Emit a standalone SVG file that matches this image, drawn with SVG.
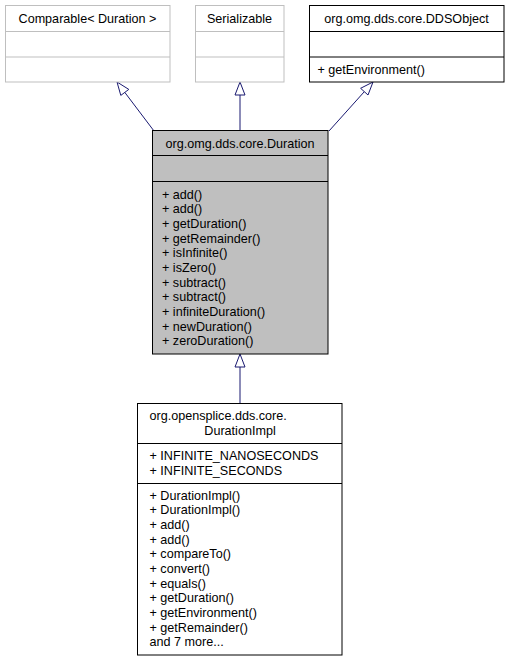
<svg xmlns="http://www.w3.org/2000/svg" width="509" height="661" viewBox="0 0 509 661">
<style>
text{font-family:"Liberation Sans",Arial,sans-serif;font-size:12.6px;fill:#000}
.c{text-anchor:middle}
.lg{fill:#fff;stroke:#bfbfbf;stroke-width:1}
.bk{fill:#fff;stroke:#000;stroke-width:1}
.gr{fill:#bfbfbf;stroke:#000;stroke-width:1}
.e{stroke:#191970;stroke-width:1;fill:none}
.ah{fill:#fff;stroke:#191970;stroke-width:1}
</style>
<rect width="509" height="661" fill="#fff"/>
<g id="connectors">
<path class="e" d="M154,131 L124.8,92.4"/>
<polygon class="ah" points="117,82 120.8,95.4 128.8,89.4"/>
<path class="e" d="M240,131 L240,95"/>
<polygon class="ah" points="240,82 235,95 245,95"/>
<path class="e" d="M329,131 L364.3,91.7"/>
<polygon class="ah" points="373,82 360.6,88.3 368,95"/>
<path class="e" d="M240,403 L240,367"/>
<polygon class="ah" points="240,354 235,367 245,367"/>
</g>
<g id="node-comparable">
<rect class="lg" x="5.5" y="5.5" width="164.5" height="76.5"/>
<path class="lg" d="M5.5,31.5 H170 M5.5,57 H170"/>
<text class="c" x="87.5" y="22.5">Comparable&lt; Duration &gt;</text>
</g>
<g id="node-serializable">
<rect class="lg" x="195.5" y="5.5" width="88.5" height="76.5"/>
<path class="lg" d="M195.5,31.5 H284 M195.5,57 H284"/>
<text class="c" x="239.5" y="22.5">Serializable</text>
</g>
<g id="node-ddsobject">
<rect class="bk" x="309.5" y="5.5" width="194.5" height="76.5"/>
<path class="bk" d="M309.5,31.5 H504 M309.5,57 H504"/>
<text class="c" x="406.5" y="22.5">org.omg.dds.core.DDSObject</text>
<text x="317.5" y="73.5">+ getEnvironment()</text>
</g>
<g id="node-duration">
<rect class="gr" x="152.5" y="130.5" width="175.5" height="223.5"/>
<path class="gr" d="M152.5,155.5 H328 M152.5,181.5 H328"/>
<text class="c" x="240" y="147.5">org.omg.dds.core.Duration</text>
<text x="162" y="198.5">+ add()</text>
<text x="162" y="213.2">+ add()</text>
<text x="162" y="227.8">+ getDuration()</text>
<text x="162" y="242.5">+ getRemainder()</text>
<text x="162" y="257.2">+ isInfinite()</text>
<text x="162" y="271.8">+ isZero()</text>
<text x="162" y="286.5">+ subtract()</text>
<text x="162" y="301.2">+ subtract()</text>
<text x="162" y="315.8">+ infiniteDuration()</text>
<text x="162" y="330.5">+ newDuration()</text>
<text x="162" y="345.2">+ zeroDuration()</text>
</g>
<g id="node-durationimpl">
<rect class="bk" x="137.5" y="403.5" width="204.5" height="251.5"/>
<path class="bk" d="M137.5,443.5 H342 M137.5,483.5 H342"/>
<text x="149.5" y="420">org.opensplice.dds.core.</text>
<text class="c" x="240" y="434.5">DurationImpl</text>
<text x="149.5" y="460">+ INFINITE_NANOSECONDS</text>
<text x="149.5" y="474.5">+ INFINITE_SECONDS</text>
<text x="149.5" y="499.7">+ DurationImpl()</text>
<text x="149.5" y="514.4">+ DurationImpl()</text>
<text x="149.5" y="529">+ add()</text>
<text x="149.5" y="543.7">+ add()</text>
<text x="149.5" y="558.4">+ compareTo()</text>
<text x="149.5" y="573">+ convert()</text>
<text x="149.5" y="587.7">+ equals()</text>
<text x="149.5" y="602.4">+ getDuration()</text>
<text x="149.5" y="617">+ getEnvironment()</text>
<text x="149.5" y="631.7">+ getRemainder()</text>
<text x="149.5" y="646.4">and 7 more...</text>
</g>
</svg>
